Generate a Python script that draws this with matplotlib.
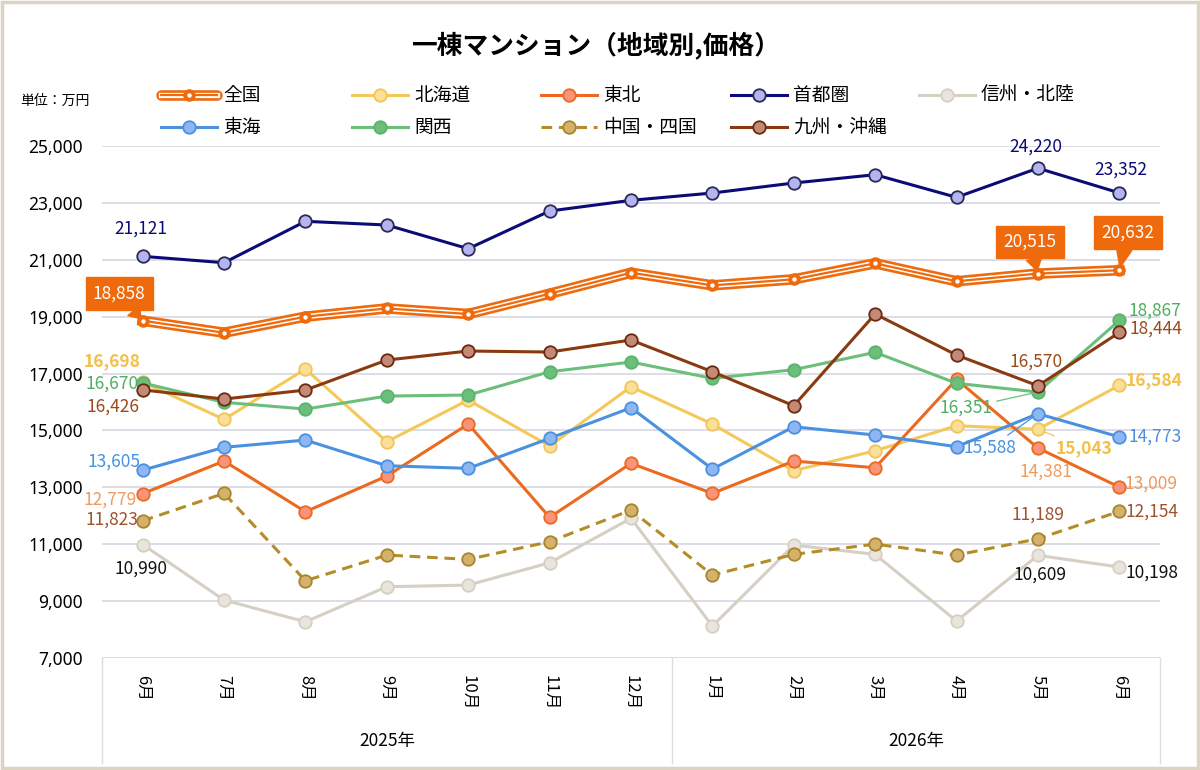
import matplotlib
matplotlib.use('Agg')
import matplotlib.pyplot as plt
from matplotlib.lines import Line2D
from matplotlib.patches import Rectangle
import numpy as np

plt.rcParams['font.family'] = ['Noto Sans CJK JP', 'DejaVu Sans']

# ---------------- data ----------------
months = ['6月', '7月', '8月', '9月', '10月', '11月', '12月',
          '1月', '2月', '3月', '4月', '5月', '6月']
years = ['2025年', '2026年']
year_groups = [(0, 6), (7, 12)]

national = [18858, 18435, 19000, 19290, 19093, 19807, 20545, 20100, 20313, 20875, 20243, 20515, 20632]
hokkaido = [16698, 15390, 17159, 14603, 16069, 14452, 16537, 15225, 13583, 14286, 15165, 15043, 16584]
tohoku = [12779, 13924, 12142, 13397, 15225, 11945, 13843, 12788, 13924, 13689, 16797, 14381, 13009]
shutoken = [21121, 20897, 22352, 22222, 21389, 22714, 23090, 23347, 23699, 23991, 23196, 24220, 23352]
shinshu = [10990, 9037, 8273, 9505, 9564, 10348, 11909, 8122, 10970, 10643, 8298, 10609, 10198]
tokai = [13605, 14406, 14662, 13759, 13667, 14722, 15798, 13643, 15130, 14838, 14428, 15588, 14773]
kansai = [16670, 15988, 15752, 16209, 16245, 17064, 17405, 16832, 17135, 17746, 16657, 16351, 18867]
chugoku = [11823, 12788, 9715, 10619, 10468, 11087, 12201, 9916, 10643, 11005, 10619, 11189, 12154]
kyushu = [16426, 16104, 16420, 17475, 17792, 17757, 18179, 17064, 15869, 19093, 17651, 16570, 18444]

series_names = ['全国', '北海道', '東北', '首都圏', '信州・北陸', '東海', '関西', '中国・四国', '九州・沖縄']
series_values = [national, hokkaido, tohoku, shutoken, shinshu, tokai, kansai, chugoku, kyushu]
labelled_idx = [0, 11, 12]

# ---------------- styles ----------------
ORANGE = '#EE6A0C'
styles = {
    '北海道': dict(color='#F5C85A', mfc='#FADF96', mec='#F2C55A', ls='-', lw=2.2),
    '東北': dict(color='#EC6A1F', mfc='#F9937A', mec='#EC6A1F', ls='-', lw=2.2),
    '首都圏': dict(color='#0B0B78', mfc='#B4B4F2', mec='#2A2A55', ls='-', lw=2.2),
    '信州・北陸': dict(color='#D6CFC3', mfc='#E9E5DC', mec='#D6CFC3', ls='-', lw=2.2),
    '東海': dict(color='#4A91E0', mfc='#8DB6F2', mec='#4A91E0', ls='-', lw=2.2),
    '関西': dict(color='#6BBF7B', mfc='#6BBF7B', mec='#5BB36C', ls='-', lw=2.2),
    '中国・四国': dict(color='#B48C28', mfc='#D5B26C', mec='#A8842C', ls=(0, (3.5, 2.2)), lw=2.2),
    '九州・沖縄': dict(color='#8A3A10', mfc='#C48A78', mec='#6A2A10', ls='-', lw=2.2),
}
label_colors = {
    '全国': 'white', '北海道': '#F3C04A', '東北': '#F09A5E', '首都圏': '#0B0B78',
    '信州・北陸': '#111111', '東海': '#4A91E0', '関西': '#4FAE62',
    '中国・四国': '#A0522D', '九州・沖縄': '#9B4A1A',
}
label_weight = {'北海道': 'bold'}
# label offsets in pixels (dx right, dy up) for indices 0, 11, 12
label_offsets = {
    '全国': [(-23.5, 27), (-8, 31.6), (8.5, 38)],
    '首都圏': [(-1.5, 28), (-2, 22), (2, 23)],
    '北海道': [(-30.5, 21), (46.5, -19), (34.5, 5)],
    '関西': [(-31, -1), (-72, -16), (36, 10)],
    '九州・沖縄': [(-29.5, -17), (-2, 24), (37, 3.5)],
    '東海': [(-29, 8.4), (-48, -34), (36, 0)],
    '東北': [(-33, -6), (8, -24), (32, 3)],
    '中国・四国': [(-30.5, 0.8), (0.5, 24), (33, 0)],
    '信州・北陸': [(-2, -24.6), (2.5, -19), (32.5, -5.7)],
}
leader_lines = {('北海道', 11), ('関西', 11), ('東海', 11)}

PX = 0.72  # points per pixel at dpi 100

fig = plt.figure(figsize=(12, 7.7), dpi=100)
W, H = 1200, 770
ax = fig.add_axes([102 / W, 1 - 658 / H, (1160 - 102) / W, (658 - 146) / H])
x = np.arange(len(months))

ax.set_xlim(-0.5, len(months) - 0.5)
ax.set_ylim(7000, 25000)
yt = list(range(7000, 25001, 2000))
ax.set_yticks(yt)
ax.set_yticklabels([f'{v:,}' for v in yt], fontsize=12.5, family=['Noto Sans', 'DejaVu Sans'])
ax.tick_params(axis='y', length=0, pad=14)
ax.set_xticks(x)
ax.set_xticklabels(months, rotation=-90, fontsize=12)
ax.tick_params(axis='x', length=0, pad=12)
for s in ax.spines.values():
    s.set_visible(False)
ax.grid(axis='y', color='#DADAE6', lw=1.3)
ax.set_axisbelow(True)

# category separators and years
for xs in [-0.5, 6.5, len(months) - 0.5]:
    ax.plot([xs, xs], [0, -0.205], transform=ax.get_xaxis_transform(),
            color='#DDDDDD', lw=1.0, clip_on=False)
for yl, (a, b) in zip(years, year_groups):
    ax.text((a + b) / 2, -0.162, yl, transform=ax.get_xaxis_transform(),
            ha='center', va='center', fontsize=12.5)

# ---------------- series ----------------
def draw_national(axis, xs, ys, z):
    axis.plot(xs, ys, color=ORANGE, lw=7.6, solid_joinstyle='round', zorder=z)
    axis.plot(xs, ys, color='white', lw=3.8, solid_joinstyle='round', zorder=z + 0.1)
    axis.plot(xs, ys, color=ORANGE, lw=1.6, solid_joinstyle='round', zorder=z + 0.2)
    axis.plot(xs, ys, ls='none', marker='o', ms=8, mfc=ORANGE, mec=ORANGE, zorder=z + 0.3)
    axis.plot(xs, ys, ls='none', marker='o', ms=2.2, mfc='white', mec='white', zorder=z + 0.4)

for i, (name, vals) in enumerate(zip(series_names, series_values)):
    z = 3 + i
    if name == '全国':
        draw_national(ax, x, vals, z)
    else:
        st = styles[name]
        ax.plot(x, vals, color=st['color'], lw=st['lw'], ls=st['ls'], marker='o', ms=9,
                mfc=st['mfc'], mec=st['mec'], mew=1.3, zorder=z)

# ---------------- data labels ----------------
for name, vals in zip(series_names, series_values):
    for k, idx in enumerate(labelled_idx):
        dx, dy = label_offsets[name][k]
        txt = f'{vals[idx]:,}'
        if name == '全国':
            ax.annotate(txt, (x[idx], vals[idx]), xytext=(dx * PX, dy * PX),
                        textcoords='offset points', ha='center', va='center',
                        fontsize=12.5, color='white', zorder=30,
                        bbox=dict(boxstyle='square,pad=0.42', fc=ORANGE, ec=ORANGE),
                        arrowprops=dict(arrowstyle='wedge,tail_width=0.9,shrink_factor=0.5',
                                        fc=ORANGE, ec=ORANGE, shrinkA=0, shrinkB=2))
        else:
            ap = None
            if (name, idx) in leader_lines:
                ap = dict(arrowstyle='-', color=styles[name]['color'], lw=0.9,
                          shrinkA=1, shrinkB=4)
            ax.annotate(txt, (x[idx], vals[idx]), xytext=(dx * PX, dy * PX),
                        textcoords='offset points', ha='center', va='center',
                        fontsize=12.5, color=label_colors[name],
                        fontweight=label_weight.get(name, 'normal'),
                        arrowprops=ap, zorder=25)

# ---------------- legend (manual, equal columns) ----------------
leg_cols = [161, 352, 541, 731, 919]
leg_rows = [95, 127]
order_rows = [['全国', '北海道', '東北', '首都圏', '信州・北陸'],
              ['東海', '関西', '中国・四国', '九州・沖縄']]
for r, row in enumerate(order_rows):
    for c, name in enumerate(row):
        x0 = leg_cols[c] / W
        x1 = (leg_cols[c] + 56) / W
        xm = (x0 + x1) / 2
        yy = 1 - leg_rows[r] / H
        if name == '全国':
            fig.add_artist(Line2D([x0, x1], [yy, yy], color=ORANGE, lw=7.6, solid_capstyle='round'))
            fig.add_artist(Line2D([x0, x1], [yy, yy], color='white', lw=3.8))
            fig.add_artist(Line2D([x0, x1], [yy, yy], color=ORANGE, lw=1.6))
            fig.add_artist(Line2D([xm], [yy], ls='none', marker='o', ms=8, mfc=ORANGE, mec=ORANGE))
            fig.add_artist(Line2D([xm], [yy], ls='none', marker='o', ms=2.2, mfc='white', mec='white'))
        else:
            st = styles[name]
            fig.add_artist(Line2D([x0, x1], [yy, yy], color=st['color'], lw=st['lw'], ls=st['ls']))
            fig.add_artist(Line2D([xm], [yy], ls='none', marker='o', ms=9,
                                  mfc=st['mfc'], mec=st['mec'], mew=1.3))
        fig.text((leg_cols[c] + 62) / W, yy, name, ha='left', va='center', fontsize=13.5)

# ---------------- title / misc ----------------
fig.text(596 / W, 1 - 45 / H, '一棟マンション（地域別,価格）', ha='center', va='center',
         fontsize=18.5, fontweight='bold')
fig.text(20 / W, 1 - 101 / H, '単位：万円', ha='left', va='center', fontsize=10)
fig.add_artist(Rectangle((0.002, 0.003), 0.996, 0.994, transform=fig.transFigure,
                         fill=False, ec='#DAD4C0', lw=2.5))

fig.savefig('out.png', dpi=100, facecolor='white')
